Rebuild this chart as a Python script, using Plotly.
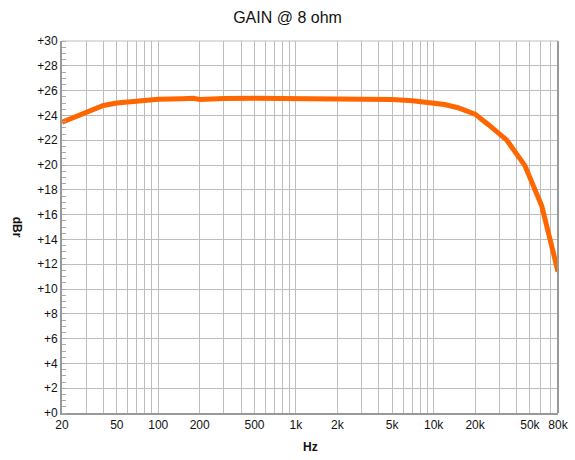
import plotly.graph_objects as go

freq_hz = [20, 25, 30, 40, 50, 70, 100, 150, 180, 200, 250, 300, 500, 1000, 2000,
           4000, 5000, 7000, 9000, 12000, 15000, 20000, 25000, 34000, 46000, 61000, 80000]
gain_dbr = [23.45, 23.9, 24.3, 24.8, 25.0, 25.18, 25.3, 25.35, 25.38, 25.28, 25.35, 25.37, 25.38, 25.38, 25.38,
            25.35, 25.28, 25.18, 25.08, 24.88, 24.62, 24.1, 23.25, 22.0, 19.95, 16.7, 11.4]

x_grid = []
for dec in [10, 100, 1000, 10000]:
    for m in range(1, 10):
        v = m * dec
        if 20 <= v <= 80000:
            x_grid.append(v)
x_label_map = {20: "20", 50: "50", 100: "100", 200: "200", 500: "500", 1000: "1k", 2000: "2k",
               5000: "5k", 10000: "10k", 20000: "20k", 50000: "50k", 80000: "80k"}
x_ticktext = [x_label_map.get(v, "") for v in x_grid]

y_ticks = list(range(0, 31, 2))
y_ticktext = ["+%d" % v for v in y_ticks]

fig = go.Figure()
fig.add_trace(go.Scatter(x=freq_hz, y=gain_dbr, mode="lines",
                         line=dict(color="#FF6600", width=5), showlegend=False))

fig.update_layout(
    width=575, height=460, autosize=False,
    margin=dict(l=62, r=17, t=41, b=47),
    paper_bgcolor="white", plot_bgcolor="white",
    font=dict(family="Liberation Sans, Arial", size=12, color="#111"),
    title=dict(text="GAIN @ 8 ohm", x=0.5, xanchor="center", y=0.962, yanchor="middle",
               font=dict(size=16, color="#111")),
    xaxis=dict(type="log", range=[1.30103, 4.90309], tickmode="array", tickvals=x_grid,
               ticktext=x_ticktext, showgrid=True, gridcolor="#bdbdbd", gridwidth=1,
               showline=True, linecolor="#999", linewidth=2, mirror=False, ticks="",
               zeroline=False, tickfont=dict(size=12), automargin=False),
    yaxis=dict(range=[0, 30], tickmode="array", tickvals=y_ticks, ticktext=y_ticktext,
               showgrid=True, gridcolor="#bdbdbd", gridwidth=1, showline=True, linecolor="#999",
               linewidth=2, ticks="", zeroline=False, tickfont=dict(size=12), automargin=False,
               minor=dict(dtick=0.5, ticks="inside", ticklen=4, tickcolor="#aaa", showgrid=False)),
    shapes=[
        dict(type="line", xref="paper", yref="paper", x0=1, x1=1, y0=0, y1=1,
             line=dict(color="#999", width=2)),
        dict(type="line", xref="paper", yref="paper", x0=0, x1=1, y0=1, y1=1,
             line=dict(color="#bdbdbd", width=1)),
    ],
    annotations=[
        dict(text="<b>dBr</b>", textangle=90, xref="paper", yref="paper", x=-0.09, y=0.5,
             showarrow=False, font=dict(size=12), xanchor="center", yanchor="middle"),
        dict(text="<b>Hz</b>", xref="paper", yref="paper", x=0.5, y=-0.091,
             showarrow=False, font=dict(size=12), xanchor="center", yanchor="middle"),
    ],
)

fig.write_html("out.html",
               config={"displayModeBar": False, "responsive": False},
               post_script=("document.documentElement.style.margin='0';"
                            "document.body.style.margin='0';document.body.style.padding='0';"
                            "document.body.style.overflow='hidden';"))
